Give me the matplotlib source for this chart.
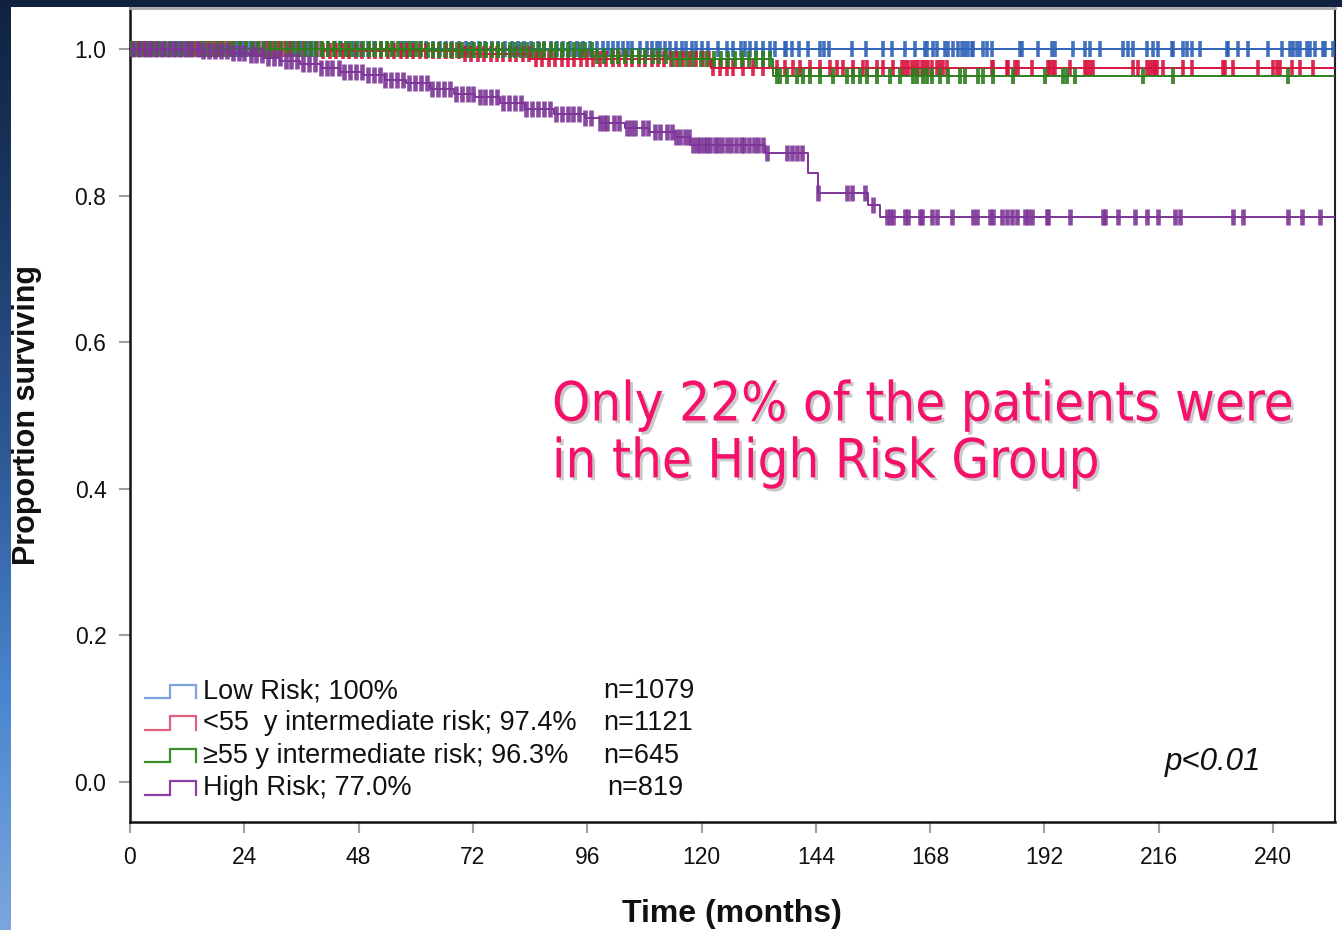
import numpy as np
import matplotlib
matplotlib.use("Agg")
import matplotlib.pyplot as plt
from matplotlib import patheffects as pe
from matplotlib.colors import LinearSegmentedColormap

plt.rcParams['font.family'] = ['Liberation Sans', 'DejaVu Sans']

# Kaplan-Meier steps: event times (months) and survival right after each step
low_t = [0, 253]
low_s = [1.0, 1.0]
young_t = [0, 40, 70, 84, 122, 253]
young_s = [1.0, 0.997, 0.993, 0.987, 0.974, 0.974]
old_t = [0, 62, 97, 113, 135, 253]
old_s = [1.0, 0.999, 0.990, 0.986, 0.963, 0.963]
high_t = [0, 14.7, 21, 25, 28, 31.5, 35.7, 40, 44, 49, 53.5, 58, 63, 68, 72.5,
          77.7, 83, 89, 95.5, 98.7, 104, 109, 114.5, 117.6, 133.4, 142.4, 144.5,
          155, 157.5, 253]
high_s = [1.0, 0.997, 0.995, 0.992, 0.988, 0.984, 0.979, 0.974, 0.969, 0.964,
          0.958, 0.953, 0.946, 0.939, 0.934, 0.926, 0.918, 0.911, 0.906, 0.899,
          0.892, 0.887, 0.880, 0.869, 0.858, 0.831, 0.804, 0.787, 0.771, 0.771]

# censored observations (months)
low_cens = [0.8, 2.1, 3.3, 4.9, 6.2, 7.4, 8.8, 10.1, 11.6, 12.9, 14.3, 15.5, 16.8,
            18.4, 19.6, 21.0, 22.5, 23.7, 25.2, 26.4, 27.9, 29.1, 30.6, 31.8, 33.3,
            34.7, 36.0, 37.4, 38.9, 40.2, 41.5, 43.0, 44.3, 45.8, 47.1, 48.5, 49.9,
            51.2, 52.6, 54.0, 55.3, 56.8, 58.1, 59.5, 60.9, 62.2, 63.6, 65.0, 66.4,
            67.7, 69.1, 70.5, 71.8, 73.2, 74.6, 76.0, 77.3, 78.7, 80.1, 81.4, 82.8,
            84.2, 85.6, 86.9, 88.3, 89.7, 91.0, 92.4, 93.8, 95.2, 96.6,
            98.1, 99.3, 100.4, 101.4, 102.5, 103.5, 104.6, 105.4, 107.1, 108.6,
            109.7, 110.7, 111.3, 112.4, 113.4, 114.6, 115.9, 116.8, 117.9, 118.9,
            120.1, 121.3, 123.5, 125.3, 126.6, 128.2, 129.2, 130.2, 131.5, 133.0,
            134.4, 135.5, 137.6, 137.8, 138.9, 140.4, 142.4, 144.9, 145.7, 146.8,
            151.6, 154.6, 158.0, 160.0, 162.8, 164.9, 167.0, 167.4, 168.6, 169.5,
            171.2, 171.8, 172.8, 173.9, 174.7, 175.4, 176.0, 176.8, 177.0, 179.1,
            180.0, 181.0, 186.9, 187.3, 190.7, 193.6, 194.3, 198.0, 200.6, 201.6,
            203.7, 208.5, 209.6, 210.6, 213.6, 214.8, 215.9, 218.8, 219.0, 221.1,
            222.0, 223.0, 224.7, 230.4, 230.6, 232.7, 234.8, 239.0, 241.9, 243.6,
            244.2, 245.1, 245.7, 247.2, 247.8, 248.9, 250.5, 251.0, 252.6]
young_cens = [0.5, 1.7, 3.0, 4.4, 5.6, 7.1, 8.3, 9.7, 11.0, 12.4, 13.6, 15.0, 16.3,
              17.7, 19.0, 20.4, 21.7, 23.1, 24.4, 25.8, 27.1, 28.5, 29.8, 31.2,
              32.5, 33.9, 35.2, 36.6, 37.9, 39.3, 40.6, 42.0, 43.3, 44.7, 46.0,
              47.4, 48.7, 50.1, 51.4, 52.8, 54.1, 55.5, 56.8, 58.2, 59.5, 60.9,
              62.2, 63.6, 64.9, 66.3, 67.6, 69.0, 70.3, 71.7, 73.0, 74.4, 75.7,
              77.1, 78.4, 79.8, 81.1, 82.5, 83.8, 85.2, 86.5, 87.9, 89.2, 90.6,
              91.9, 93.3, 94.6, 96.0, 97.3, 98.7, 100.0, 101.4, 102.7, 104.1,
              105.4, 106.8, 108.1, 109.5, 110.8, 112.2, 113.5, 114.9, 116.2,
              117.6, 118.9, 120.3, 121.6, 122.4, 123.9, 125.4, 126.6, 128.7,
              130.8, 132.9, 135.9, 137.6, 139.2, 140.7, 142.8, 144.9, 147.0,
              148.5, 149.7, 151.8, 153.9, 154.8, 156.9, 158.1, 160.2, 162.1,
              162.8, 163.4, 164.2, 164.9, 165.5, 166.3, 166.9, 167.6, 168.4,
              169.5, 170.1, 170.7, 171.6, 181.0, 181.2, 184.2, 184.4, 185.9,
              186.5, 189.4, 192.8, 193.2, 193.8, 194.3, 197.4, 200.6, 201.0,
              201.6, 202.2, 210.6, 211.7, 213.6, 214.2, 214.8, 215.3, 215.7,
              216.9, 221.1, 223.0, 229.5, 229.9, 231.6, 236.9, 240.0, 240.9,
              241.5, 244.0, 245.7, 248.4]
old_cens = [0.3, 1.2, 2.4, 3.7, 4.8, 6.0, 7.3, 8.5, 9.6, 10.9, 12.1, 13.3, 14.6,
            15.8, 17.0, 18.2, 19.5, 20.7, 21.9, 23.2, 24.4, 25.6, 26.8, 28.1, 29.3,
            30.5, 31.8, 33.0, 34.2, 35.4, 36.7, 37.9, 39.1, 40.4, 41.6, 42.8, 44.0,
            45.3, 46.5, 47.7, 49.0, 50.2, 51.4, 52.6, 53.9, 55.1, 56.3, 57.6, 58.8,
            60.0, 61.2, 62.5, 63.7, 64.9, 66.2, 67.4, 68.6, 69.8, 71.1, 72.3, 73.5,
            74.8, 76.0, 77.2, 78.4, 79.7, 80.9, 82.1, 83.4, 84.6, 85.8, 87.0, 88.3,
            89.5, 90.7, 92.0, 93.2, 94.4, 95.6, 96.9, 98.1, 99.6, 101.2, 102.5,
            104.0, 105.3, 106.9, 108.2, 109.8, 111.1, 112.6, 114.0, 115.5, 116.9,
            118.3, 119.8, 121.2, 122.7, 124.1, 125.6, 127.0, 128.5, 129.9, 131.4,
            132.8, 134.3, 135.9, 136.5, 138.0, 140.1, 141.3, 142.8, 144.9, 147.6,
            150.6, 151.8, 153.3, 154.8, 156.9, 159.6, 161.7, 164.4, 165.3, 166.5,
            167.4, 168.4, 170.1, 171.8, 174.3, 175.4, 178.1, 179.1, 181.2, 185.4,
            192.2, 195.9, 196.8, 198.5, 212.7, 219.0, 243.2]
high_cens = [0.6, 1.8, 3.1, 4.3, 5.5, 6.8, 8.0, 9.2, 10.5, 11.7, 12.9, 14.2, 15.4,
             16.6, 17.9, 19.1, 20.3, 21.6, 22.8, 24.0, 25.3, 26.5, 27.7, 29.0, 30.2,
             31.4, 32.7, 33.9, 35.1, 36.4, 37.6, 38.8, 40.1, 41.3, 42.5, 43.8, 45.0,
             46.2, 47.5, 48.7, 49.9, 51.2, 52.4, 53.6, 54.9, 56.1, 57.3, 58.6, 59.8,
             61.0, 62.3, 63.5, 64.7, 66.0, 67.2, 68.4, 69.7, 70.9, 72.1, 73.4, 74.6,
             75.8, 77.1, 78.3, 79.5, 80.8, 82.0, 83.2, 84.5, 85.7, 86.9, 88.2, 89.4,
             90.6, 91.9, 93.1, 94.3, 95.6, 96.8, 98.7, 99.5, 100.2, 101.6, 102.6,
             104.3, 105.1, 106.0, 107.7, 108.8, 110.3, 111.3, 112.8, 113.7, 114.6,
             115.5, 116.6, 117.4, 118.3, 119.1, 119.7, 120.5, 121.2, 121.8, 122.9,
             123.5, 124.4, 125.4, 126.1, 127.2, 128.2, 128.9, 129.9, 131.0, 131.9,
             132.8, 133.8, 138.0, 139.0, 140.1, 141.1, 144.5, 150.6, 151.6, 154.4,
             156.0, 159.0, 159.6, 160.3, 162.8, 163.4, 165.9, 166.3, 168.4, 169.5,
             172.6, 177.0, 177.9, 180.6, 181.2, 183.1, 184.2, 185.2, 186.3, 188.0,
             188.6, 189.4, 192.5, 192.7, 197.4, 204.3, 204.7, 207.5, 211.1, 213.6,
             215.9, 219.5, 220.5, 231.6, 233.7, 243.1, 246.0, 249.9]

labels = ['Low Risk; 100%', '<55  y intermediate risk; 97.4%',
          '\u226555 y intermediate risk; 96.3%', 'High Risk; 77.0%']
counts = ['n=1079', 'n=1121', 'n=645', 'n=819']
line_colors = ['#2f63b8', '#d8123e', '#2e7f1e', '#7d3597']
key_colors = ['#7ea2dc', '#e2607f', '#3c8c2c', '#8b3fa8']
mark_widths = [2.6, 2.6, 2.8, 3.3]

xticks = [0, 24, 48, 72, 96, 120, 144, 168, 192, 216, 240]
yticks = [0.0, 0.2, 0.4, 0.6, 0.8, 1.0]

W, H = 1342, 930
fig = plt.figure(figsize=(W / 100, H / 100), dpi=100, facecolor='white')
ax = fig.add_axes([130 / W, 1 - 822 / H, 1205 / W, 814 / H])
ax.set_xlim(0, 253)
ax.set_ylim(-0.0546, 1.056)

groups = [(low_t, low_s, low_cens), (young_t, young_s, young_cens),
          (old_t, old_s, old_cens), (high_t, high_s, high_cens)]
for (t, s, cens), col, mw in zip(groups, line_colors, mark_widths):
    t = np.asarray(t, float)
    s = np.asarray(s, float)
    ax.step(t, s, where='post', color=col, lw=1.4, zorder=3)
    c = np.asarray(cens, float)
    idx = np.searchsorted(t, c, side='right') - 1
    ax.plot(c, s[idx], ls='none', marker='|', ms=11.5, mew=mw, color=col,
            alpha=0.9, zorder=3)

# legend block drawn by hand
rows_y = [0.124, 0.0805, 0.0355, -0.0082]
n_x = [99.3, 99.3, 99.3, 100.2]
d = 0.0089
for y, lab, n, kc, nx in zip(rows_y, labels, counts, key_colors, n_x):
    ax.plot([3.2, 8.4, 8.4, 13.9, 13.9], [y - d, y - d, y + d, y + d, y - d],
            color=kc, lw=1.6, solid_joinstyle='miter')
    ax.text(15.3, y, lab, fontsize=19.5, va='center', ha='left', color='#111111')
    ax.text(nx, y, n, fontsize=19.5, va='center', ha='left', color='#111111')

ax.text(217.3, 0.027, 'p<0.01', fontsize=22.5, style='italic', va='center',
        ha='left', color='#111111')

ax.set_xticks(xticks)
ax.set_xticklabels([str(v) for v in xticks])
ax.set_yticks(yticks)
ax.set_yticklabels(['%.1f' % v for v in yticks])
ax.tick_params(direction='out', length=8, width=1.5, color='#a0a0a0',
               labelsize=16.5, labelcolor='#111111', pad=9)
for side in ['left', 'bottom']:
    ax.spines[side].set_linewidth(1.8)
    ax.spines[side].set_color('#111111')
ax.spines['right'].set_linewidth(1.5)
ax.spines['right'].set_color('#222222')
ax.spines['top'].set_linewidth(2)
ax.spines['top'].set_color('#a8a8a8')

fig.text(732 / W, 1 - 914 / H, 'Time (months)', ha='center', va='center',
         fontsize=23, weight='bold', color='#111111')
fig.text(27 / W, 1 - 415 / H, 'Proportion surviving', ha='center', va='center',
         rotation=90, fontsize=22, weight='bold', color='#111111')

fig.text(552 / W, 1 - 434 / H, 'Only 22% of the patients were\nin the High Risk Group',
         ha='left', va='center', fontsize=39, family='DejaVu Sans',
         fontstretch='condensed', color='#f5106a', linespacing=1.12,
         path_effects=[pe.SimplePatchShadow(offset=(2, -2), shadow_rgbFace='#888888',
                                            alpha=0.45), pe.Normal()])

# slide frame: dark strip on top, blue gradient strip down the left side
top = fig.add_axes([0, 1 - 7 / H, 1, 7 / H])
top.set_facecolor('#10223f')
top.set_xticks([])
top.set_yticks([])
for sp in top.spines.values():
    sp.set_visible(False)
top.set_zorder(10)

side = fig.add_axes([0, 0, 11 / W, 1])
frame_cmap = LinearSegmentedColormap.from_list(
    'frame', ['#10223f', '#1c3b68', '#2f5a98', '#4a86d0', '#7ba6dd'])
side.imshow(np.linspace(0, 1, 256).reshape(-1, 1), aspect='auto', cmap=frame_cmap,
            extent=[0, 1, 1, 0])
side.set_axis_off()
side.set_zorder(10)

fig.savefig('out.png', dpi=100, facecolor='white')
